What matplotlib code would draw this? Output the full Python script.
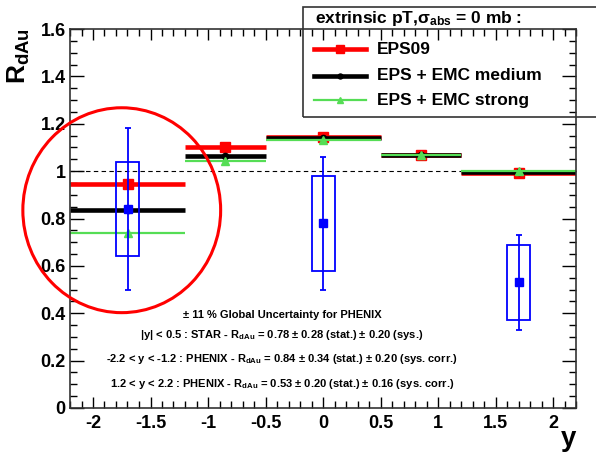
import matplotlib.pyplot as plt
from matplotlib.patches import Rectangle, Ellipse
from matplotlib.lines import Line2D
from matplotlib.ticker import MultipleLocator, FuncFormatter

plt.rcParams['font.family'] = ['Liberation Sans', 'DejaVu Sans']
plt.rcParams['font.weight'] = 'bold'
plt.rcParams['mathtext.fontset'] = 'custom'
plt.rcParams['mathtext.rm'] = 'Liberation Sans:bold'
plt.rcParams['mathtext.it'] = 'Liberation Sans:bold'
plt.rcParams['mathtext.bf'] = 'Liberation Sans:bold'
plt.rcParams['mathtext.default'] = 'rm'
plt.rcParams['axes.unicode_minus'] = False

# rapidity bins of the model curves
bin_lo = [-2.2, -1.2, -0.5, 0.5, 1.2]
bin_hi = [-1.2, -0.5, 0.5, 1.2, 2.2]
bin_mid = [-1.7, -0.85, 0.0, 0.85, 1.7]

eps09 = [0.945, 1.10, 1.145, 1.07, 0.99]
emc_medium = [0.837, 1.065, 1.14, 1.067, 0.995]
emc_strong = [0.737, 1.043, 1.133, 1.067, 1.0]

# PHENIX / STAR data
data_y = [-1.7, 0.0, 1.7]
data_r = [0.84, 0.78, 0.53]
data_stat = [0.34, 0.28, 0.20]
data_sys = [0.20, 0.20, 0.16]

W, H = 596, 453
fig = plt.figure(figsize=(W / 100, H / 100), dpi=100)
ax = fig.add_axes([70 / W, 45 / H, 506 / W, 379 / H])

models = [
    (eps09, 'red', 3.3, 's', 6.5, 'EPS09'),
    (emc_medium, 'black', 3.3, 'o', 4.5, 'EPS + EMC medium'),
    (emc_strong, '#55dd55', 1.6, '^', 5.5, 'EPS + EMC strong'),
]

ax.axhline(1.0, color='black', ls=(0, (4, 3)), lw=0.8, zorder=1)

for vals, col, lw, mk, ms, lab in models:
    ax.hlines(vals, bin_lo, bin_hi, color=col, lw=lw, zorder=2)
    ax.plot(bin_mid, vals, ls='none', marker=mk, color=col, ms=ms, zorder=2)

# systematic boxes + stat errors
for x, r, s in zip(data_y, data_r, data_sys):
    ax.add_patch(Rectangle((x - 0.1, r - s), 0.2, 2 * s, fill=False,
                           ec='blue', lw=1.3, zorder=3))
ax.errorbar(data_y, data_r, yerr=data_stat, fmt='s', color='blue', ms=6,
            elinewidth=1.3, capsize=2, capthick=1.3, zorder=4)

# hand drawn circle
ax.add_patch(Ellipse((-1.75, 0.835), 1.72, 0.865, fill=False, ec='red',
                     lw=2.2, clip_on=False, zorder=5))

ax.set_xlim(-2.2, 2.2)
ax.set_ylim(0, 1.6)
ax.xaxis.set_major_locator(MultipleLocator(0.5))
ax.xaxis.set_minor_locator(MultipleLocator(0.1))
ax.yaxis.set_major_locator(MultipleLocator(0.2))
ax.yaxis.set_minor_locator(MultipleLocator(0.05))
fmt = FuncFormatter(lambda v, p: '%g' % round(v, 2))
ax.xaxis.set_major_formatter(fmt)
ax.yaxis.set_major_formatter(fmt)
ax.tick_params(which='both', direction='in', top=True, right=True,
               width=1, labelsize=13)
ax.tick_params(axis='y', which='major', length=10, pad=3)
ax.tick_params(axis='x', which='major', length=8, pad=5)
ax.tick_params(which='minor', length=5)
for lab in ax.get_xticklabels() + ax.get_yticklabels():
    lab.set_fontweight('bold')
for sp in ax.spines.values():
    sp.set_linewidth(1.2)
    sp.set_color('#333333')

fig.text(19 / W, 1 - 28 / H, r'R$_{dAu}$', rotation=90, ha='center',
         va='top', fontsize=19)
fig.text(576 / W, 1 - 446 / H, 'y', ha='right', va='baseline', fontsize=20)

# annotation lines
notes = [
    (315, '\u00b1 11 % Global Uncertainty for PHENIX'),
    (335, r'|y| < 0.5 : STAR - R$_{dAu}$ = 0.78 $\pm$ 0.28 (stat.) $\pm$ 0.20 (sys.)'),
    (359, r'-2.2 < y < -1.2 : PHENIX - R$_{dAu}$ = 0.84 $\pm$ 0.34 (stat.) $\pm$ 0.20 (sys. corr.)'),
    (384, r'1.2 < y < 2.2 : PHENIX - R$_{dAu}$ = 0.53 $\pm$ 0.20 (stat.) $\pm$ 0.16 (sys. corr.)'),
]
for yp, txt in notes:
    fig.text(282 / W, 1 - yp / H, txt, ha='center', va='center', fontsize=8)

# legend box
fig.add_artist(Rectangle((303 / W, 1 - 117 / H), 310 / W, 110 / H,
                         transform=fig.transFigure, fill=False, ec='#333333',
                         lw=1.2, clip_on=False))
fig.text(315 / W, 1 - 18 / H, r'extrinsic pT,$\sigma_{abs}$ = 0 mb :',
         ha='left', va='center', fontsize=12.5)
for (vals, col, lw, mk, ms, lab), yp in zip(models, [49, 76, 100]):
    fig.add_artist(Line2D([314 / W, 366 / W], [1 - yp / H, 1 - yp / H],
                          transform=fig.transFigure, color=col, lw=lw))
    fig.add_artist(Line2D([340 / W], [1 - yp / H], transform=fig.transFigure,
                          color=col, marker=mk, ms=ms * 0.8, ls='none'))
    fig.text(377 / W, 1 - yp / H, lab, ha='left', va='center', fontsize=12.5)

fig.savefig('out.png', dpi=100)
